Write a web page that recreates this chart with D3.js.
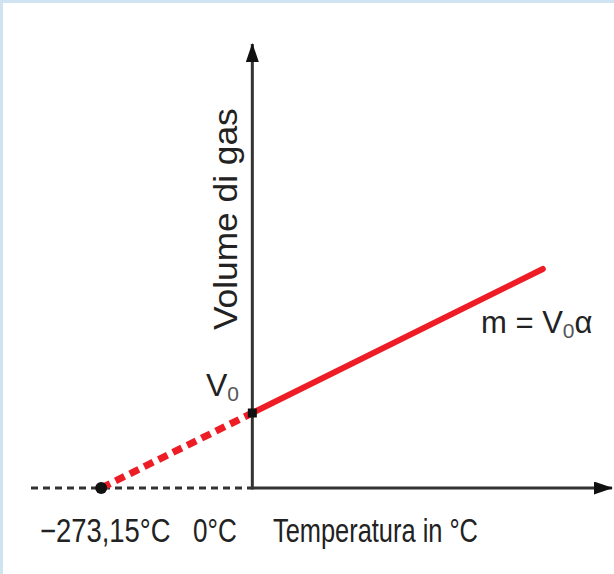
<!DOCTYPE html>
<meta charset="utf-8">
<script src="https://d3js.org/d3.v7.min.js"></script>
<style>
  body {margin: 0; background: #fff;}
  svg text {font-family: "Liberation Sans", Arial, sans-serif; fill: #222;}
</style>
<div id="my_dataviz"></div>
<script>

// data: Charles law line V = V0 (1 + t/273.15)
var temps = [-273.15, 0, 525];      // °C
var volumes = [0, 1, 2.92];         // in units of V0
var tickValues = [-273.15, 0];
var tickLabels = ["\u2212273,15\u00b0C", "0\u00b0C"];

var W = 614, H = 574;

var svg = d3.select("#my_dataviz")
  .append("svg")
    .attr("width", W)
    .attr("height", H);

// light blue frame (top and left)
svg.append("rect").attr("x", 0).attr("y", 0).attr("width", W).attr("height", H).attr("fill", "#fff");
svg.append("rect").attr("x", 0).attr("y", 0).attr("width", W).attr("height", 3).attr("fill", "#cfe3f1");
svg.append("rect").attr("x", 0).attr("y", 0).attr("width", 3).attr("height", H).attr("fill", "#cfe3f1");

// scales
var x = d3.scaleLinear().domain([-400, 650]).range([31, 612]);
var y = d3.scaleLinear().domain([0, 5.92]).range([488, 44]);

var axisColor = "#333";

// arrow heads
var defs = svg.append("defs");
defs.append("marker")
    .attr("id", "arrow")
    .attr("viewBox", "0 0 19 13")
    .attr("refX", 18).attr("refY", 6.5)
    .attr("markerWidth", 19).attr("markerHeight", 13)
    .attr("markerUnits", "userSpaceOnUse")
    .attr("orient", "auto")
  .append("path")
    .attr("d", "M0,0 L19,6.5 L0,13 Z")
    .attr("fill", "#111");

// x axis: dashed to the left of 0, solid to the right
svg.append("line")
    .attr("x1", x(-400)).attr("x2", x(0))
    .attr("y1", y(0)).attr("y2", y(0))
    .attr("stroke", axisColor).attr("stroke-width", 3)
    .attr("stroke-dasharray", "7,5");

svg.append("line")
    .attr("x1", x(0)).attr("x2", x(650))
    .attr("y1", y(0)).attr("y2", y(0))
    .attr("stroke", axisColor).attr("stroke-width", 3)
    .attr("marker-end", "url(#arrow)");

// y axis
svg.append("line")
    .attr("x1", x(0)).attr("x2", x(0))
    .attr("y1", y(0) + 1.5).attr("y2", y(5.92))
    .attr("stroke", axisColor).attr("stroke-width", 3)
    .attr("marker-end", "url(#arrow)");

// red line: dotted extrapolation, solid measured part
var pts = temps.map(function(t, i) { return [x(t), y(volumes[i])]; });
var line = d3.line();

svg.append("path")
    .attr("d", line(pts.slice(0, 2)))
    .attr("fill", "none")
    .attr("stroke", "#ee1c24")
    .attr("stroke-width", 7)
    .attr("stroke-dasharray", "10,6");

svg.append("path")
    .attr("d", line(pts.slice(1, 3)))
    .attr("fill", "none")
    .attr("stroke", "#ee1c24")
    .attr("stroke-width", 6)
    .attr("stroke-linecap", "round");

// points
svg.append("circle")
    .attr("cx", x(temps[0])).attr("cy", y(volumes[0]))
    .attr("r", 6).attr("fill", "#111");

svg.append("rect")
    .attr("x", x(temps[1]) - 4.5).attr("y", y(volumes[1]) - 4.5)
    .attr("width", 9).attr("height", 9)
    .attr("fill", "#111");

// squeezed text (the original face is narrower than Arial)
function label(tx, ty, sx, str, rot) {
  return svg.append("text")
    .attr("transform", "translate(" + tx + "," + ty + ")" + (rot ? " rotate(-90)" : "") + " scale(" + sx + ",1)")
    .attr("font-size", 33)
    .text(str);
}

// tick labels
label(40, 542, 0.83, tickLabels[0]);
label(193, 542, 0.79, tickLabels[1]);

// axis titles
label(273, 542, 0.77, "Temperatura in \u00b0C");
label(237, 330, 1.07, "Volume di gas", true);

// V0 label
var v0 = svg.append("text")
    .attr("x", 206).attr("y", 396)
    .attr("font-size", 32);
v0.append("tspan").text("V");
v0.append("tspan").attr("font-size", 21).attr("dy", 5).attr("fill", "#555").text("0");

// slope label
var m = svg.append("text")
    .attr("x", 481).attr("y", 333)
    .attr("font-size", 31);
m.append("tspan").text("m = V");
m.append("tspan").attr("font-size", 21).attr("dy", 5).attr("fill", "#555").text("0");
m.append("tspan").attr("dy", -5).text("\u03b1");

</script>
